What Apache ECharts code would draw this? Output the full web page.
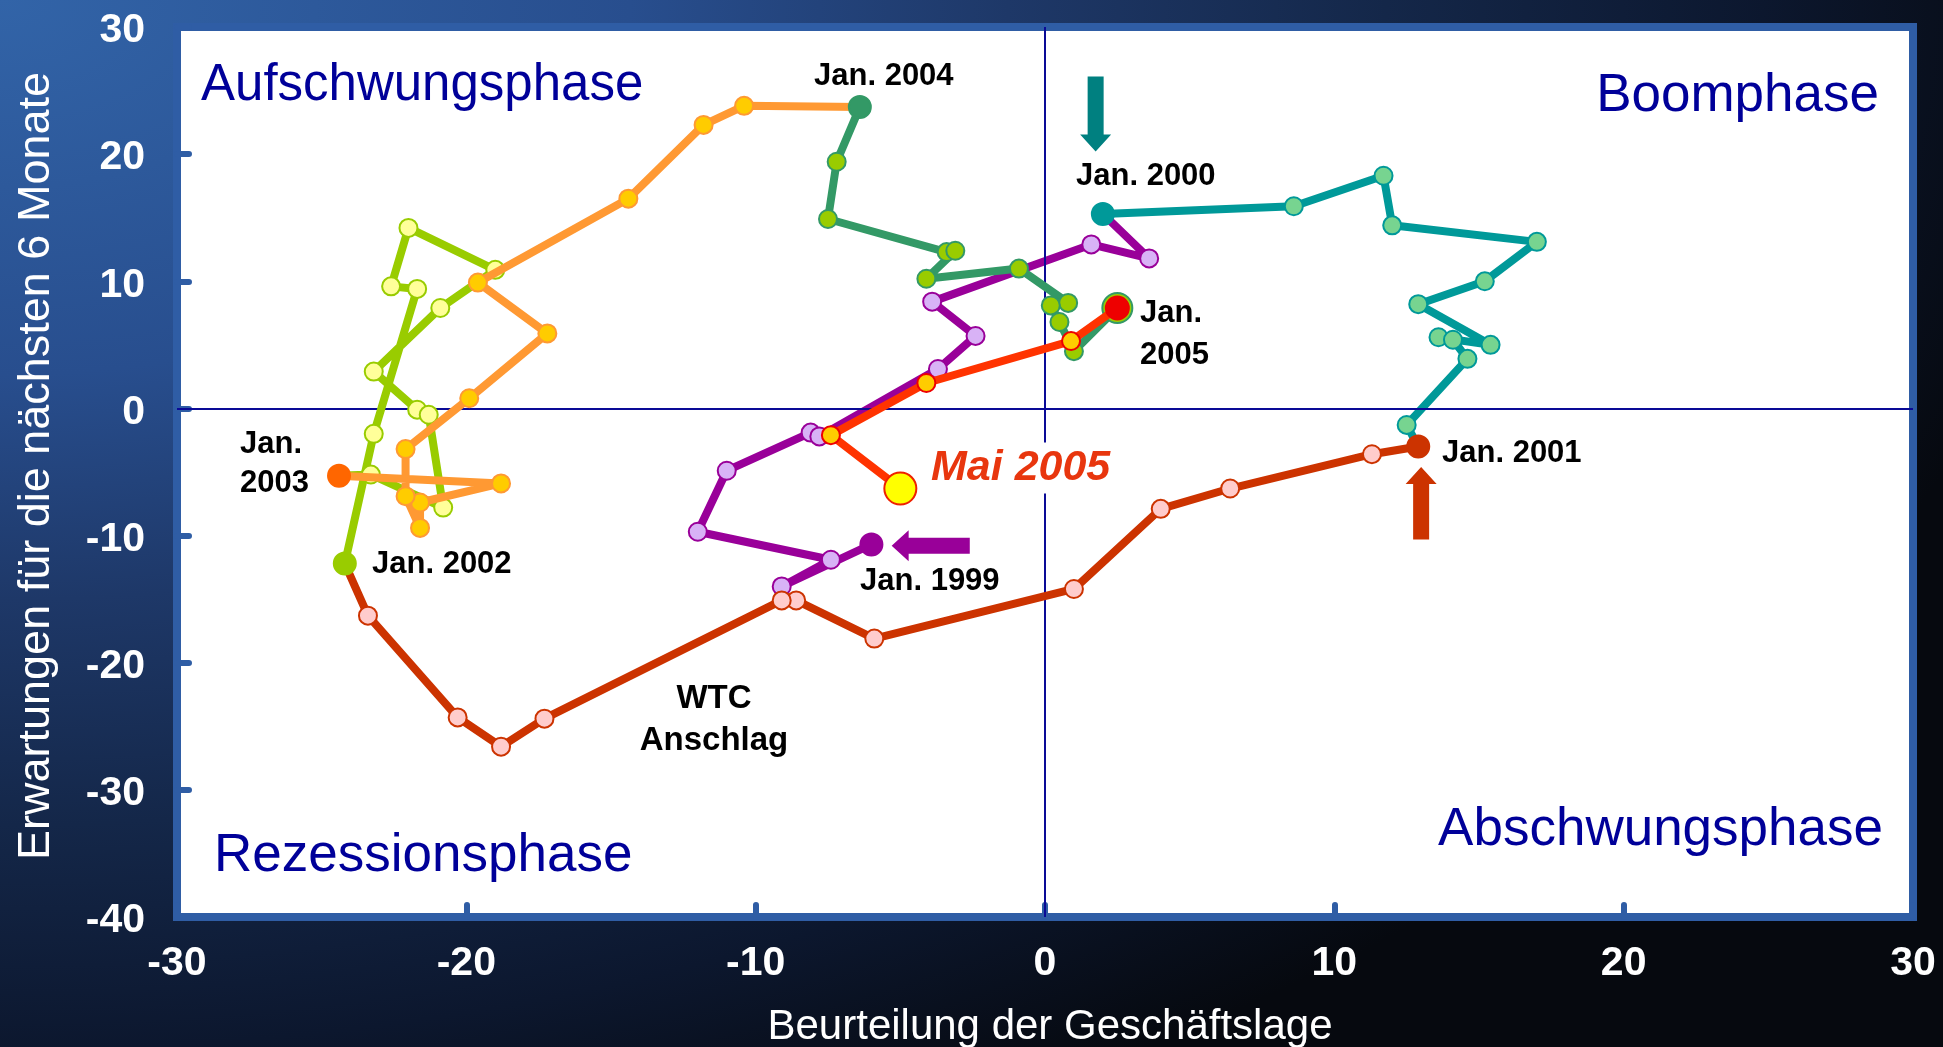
<!DOCTYPE html>
<html>
<head>
<meta charset="utf-8">
<title>Konjunkturuhr</title>
<script src="https://cdn.jsdelivr.net/npm/echarts@6/dist/echarts.min.js"></script>
<style>
  html, body { margin: 0; padding: 0; }
  body {
    width: 1943px; height: 1047px; overflow: hidden;
    background: radial-gradient(ellipse 2100px 1250px at 0 0,
      #3264A8 0%, #284E8E 30%, #1E3868 48%, #142749 66%, #0C172E 84%, #06090F 100%);
  }
  #chart { width: 1943px; height: 1047px; }
</style>
</head>
<body>
<div id="chart"></div>
<script>
// x: Beurteilung der Geschäftslage, y: Erwartungen für die nächsten 6 Monate
// jeweils Jan. bis Dez. eines Jahres
const year1999 = [[-6.0, -10.7], [-9.1, -14.0], [-7.4, -11.9], [-12.0, -9.7], [-11.0, -4.9], [-8.1, -1.9],
  [-7.8, -2.2], [-3.7, 3.1], [-2.4, 5.7], [-3.9, 8.4], [1.6, 12.9], [3.6, 11.8]];
const year2000 = [[2.0, 15.3], [8.6, 15.9], [11.7, 18.3], [12.0, 14.4], [17.0, 13.1], [15.2, 10.0],
  [12.9, 8.2], [15.4, 5.0], [13.6, 5.6], [14.1, 5.4], [14.6, 3.9], [12.5, -1.3]];
const year2001 = [[12.9, -3.0], [11.3, -3.6], [6.4, -6.3], [4.0, -7.9], [1.0, -14.2], [-5.9, -18.1],
  [-8.6, -15.1], [-9.1, -15.1], [-17.3, -24.4], [-18.8, -26.6], [-20.3, -24.3], [-23.4, -16.3]];
const year2002 = [[-24.2, -12.2], [-23.2, -2.0], [-21.7, 9.4], [-22.6, 9.6], [-22.0, 14.2], [-19.0, 10.9],
  [-20.9, 7.9], [-23.2, 2.9], [-21.7, -0.1], [-21.3, -0.5], [-20.8, -7.8], [-23.3, -5.2]];
const year2003 = [[-24.4, -5.3], [-18.8, -5.9], [-21.6, -7.4], [-21.6, -9.4], [-22.1, -6.9], [-22.1, -3.2],
  [-19.9, 0.8], [-17.2, 5.9], [-19.6, 9.9], [-14.4, 16.5], [-11.8, 22.3], [-10.4, 23.8]];
const year2004 = [[-6.4, 23.7], [-7.2, 19.4], [-7.5, 14.9], [-3.4, 12.3], [-3.1, 12.4], [-4.1, 10.2],
  [-0.9, 11.0], [0.8, 8.3], [0.2, 8.1], [0.5, 6.8], [1.0, 4.5]];
const year2005 = [[2.5, 7.9], [0.9, 5.3], [-4.1, 2.0], [-7.4, -2.1], [-5.0, -6.3]];

const years = [year1999, year2000, year2001, year2002, year2003, year2004, year2005];
const xTicks = [-30, -20, -10, 0, 10, 20, 30];
const yTicks = [-40, -30, -20, -10, 0, 10, 20, 30];

// Pfeile: Schaftende -> Spitze
const arrows = [[1.75, 26.1, 1.75, 20.2], [13.0, -10.3, 13.0, -4.6], [-2.6, -10.8, -5.3, -10.8]];

const lineColors = ['#990099', '#009999', '#CC3300', '#99CC00', '#FF9933', '#339966', '#FF3300'];
const markerFills = ['#D8B2F6', '#77D490', '#FFCCCC', '#FFFF99', '#FFCC00', '#99CC00', '#FFCC00'];
const janColors = ['#990099', '#009999', '#CC3300', '#99CC00', '#FF6600', '#339966', '#EE0000'];
const arrowColors = ['#008080', '#CC3300', '#990099'];

const FONT = '"Liberation Sans", Arial, Helvetica, sans-serif';
const frameBlue = '#2F5DA5';

const chart = echarts.init(document.getElementById('chart'), null, { renderer: 'canvas' });

const series = years.map((pts, i) => {
  const data = pts.map((p, j) => j === 0
    ? { value: p, symbolSize: i === 6 ? 23 : 22, itemStyle: { color: janColors[i], borderColor: janColors[i] } }
    : { value: p });
  const next = years[i + 1];
  if (next) {
    if (i === 5) {
      data.push({ value: next[0], symbolSize: 30,
        itemStyle: { color: '#99CC00', borderColor: '#339966', borderWidth: 2 } });
    } else {
      data.push({ value: next[0], symbol: 'none' });
    }
  } else {
    const last = data[data.length - 1];
    last.symbolSize = 32;
    last.itemStyle = { color: '#FFFF00', borderColor: '#EE2200', borderWidth: 2 };
  }
  const s = {
    type: 'line',
    data,
    z: 3 + i,
    symbol: 'circle',
    symbolSize: 18,
    showSymbol: true,
    showAllSymbol: true,
    clip: false,
    silent: true,
    lineStyle: { color: lineColors[i], width: 8, join: 'round' },
    itemStyle: { color: markerFills[i], borderColor: i === 6 ? '#EE0000' : lineColors[i], borderWidth: 2 },
    emphasis: { disabled: true },
    animation: false
  };
  if (i === 0) {
    s.markLine = {
      silent: true,
      symbol: ['none', 'none'],
      label: { show: false },
      lineStyle: { color: '#0A0A96', width: 2, type: 'solid' },
      emphasis: { disabled: true },
      data: [{ xAxis: 0 }, { yAxis: 0 }],
      animation: false
    };
    s.z = 2;
  }
  return s;
});

series.push({
  type: 'custom',
  z: 20,
  silent: true,
  data: arrows.map((a, i) => a.concat(i)),
  encode: { x: [0, 2], y: [1, 3] },
  renderItem: (params, api) => {
    const p1 = api.coord([api.value(0), api.value(1)]);
    const p2 = api.coord([api.value(2), api.value(3)]);
    const dx = p2[0] - p1[0], dy = p2[1] - p1[1];
    const len = Math.sqrt(dx * dx + dy * dy);
    const ux = dx / len, uy = dy / len, nx = -uy, ny = ux;
    const sw = 8, hw = 15.5, hl = 17;
    const nk = [p2[0] - ux * hl, p2[1] - uy * hl];
    const pts = [
      [p1[0] + nx * sw, p1[1] + ny * sw],
      [nk[0] + nx * sw, nk[1] + ny * sw],
      [nk[0] + nx * hw, nk[1] + ny * hw],
      p2,
      [nk[0] - nx * hw, nk[1] - ny * hw],
      [nk[0] - nx * sw, nk[1] - ny * sw],
      [p1[0] - nx * sw, p1[1] - ny * sw]
    ];
    return { type: 'polygon', shape: { points: pts }, style: { fill: arrowColors[api.value(4)] } };
  },
  animation: false
});

function txt(text, x, y, opts) {
  return {
    type: 'text', x, y, z: 100, silent: true,
    style: Object.assign({
      text, fill: '#000', fontFamily: FONT, fontSize: 31, fontWeight: 'bold',
      align: 'left', verticalAlign: 'middle'
    }, opts || {})
  };
}

const phase = { fill: '#000099', fontSize: 53, fontWeight: 'normal' };
const graphics = [
  txt('Aufschwungsphase', 201, 86, Object.assign({}, phase, { fontSize: 51 })),
  txt('Boomphase', 1879, 96, Object.assign({ align: 'right' }, phase)),
  txt('Rezessionsphase', 214, 856, phase),
  txt('Abschwungsphase', 1883, 830, Object.assign({ align: 'right' }, phase)),
  txt('Jan. 2004', 814, 76),
  txt('Jan. 2000', 1076, 176),
  txt('Jan.', 1140, 313),
  txt('2005', 1140, 355),
  txt('Jan. 2001', 1442, 453),
  txt('Jan. 1999', 860, 581),
  txt('Jan. 2002', 372, 564),
  txt('Jan.', 240, 444),
  txt('2003', 240, 483),
  txt('WTC', 714, 699, { align: 'center', fontSize: 33 }),
  txt('Anschlag', 714, 741, { align: 'center', fontSize: 33 }),
  txt('Mai 2005', 927, 468, { fill: '#E8360E', fontSize: 43, fontStyle: 'italic',
    backgroundColor: '#FFFFFF', padding: [4, 4, 4, 4] }),
  txt('Beurteilung der Geschäftslage', 1050, 1027,
    { fill: '#FFFFFF', fontSize: 42, fontWeight: 'normal', align: 'center' }),
  {
    type: 'text', x: 37, y: 466, rotation: Math.PI / 2, z: 100, silent: true,
    style: { text: 'Erwartungen für die nächsten 6 Monate', fill: '#FFFFFF', fontFamily: FONT,
      fontSize: 45, align: 'center', verticalAlign: 'middle' }
  }
];

const tickStyle = { show: true, inside: true, length: 12, lineStyle: { color: frameBlue, width: 6, cap: 'round' } };

const option = {
  backgroundColor: 'transparent',
  animation: false,
  grid: {
    left: 177, top: 27, width: 1736, height: 890,
    show: true, backgroundColor: '#FFFFFF', borderColor: frameBlue, borderWidth: 8
  },
  xAxis: {
    type: 'value', min: xTicks[0], max: xTicks[xTicks.length - 1], interval: 10,
    axisLine: { show: false, onZero: false },
    splitLine: { show: false },
    axisTick: tickStyle,
    axisLabel: { color: '#FFFFFF', fontSize: 41, fontWeight: 'bold', fontFamily: FONT, margin: 26,
      showMinLabel: true, showMaxLabel: true }
  },
  yAxis: {
    type: 'value', min: yTicks[0], max: yTicks[yTicks.length - 1], interval: 10,
    axisLine: { show: false, onZero: false },
    splitLine: { show: false },
    axisTick: tickStyle,
    axisLabel: { color: '#FFFFFF', fontSize: 41, fontWeight: 'bold', fontFamily: FONT, margin: 32,
      verticalAlign: 'top', lineHeight: 8, showMinLabel: true, showMaxLabel: true }
  },
  graphic: graphics,
  series
};

chart.setOption(option);
</script>
</body>
</html>
